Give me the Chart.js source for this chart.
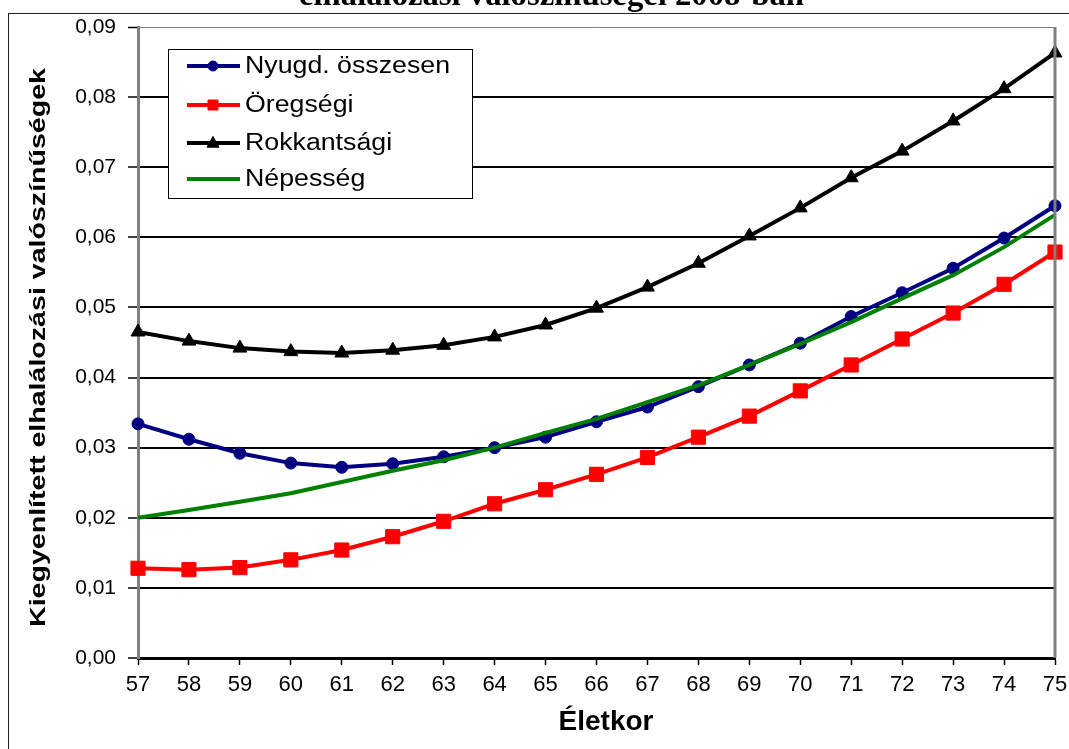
<!DOCTYPE html>
<html><head><meta charset="utf-8">
<script src="https://cdn.jsdelivr.net/npm/chart.js@4.4.1/dist/chart.umd.min.js"></script>
<style>html,body{margin:0;padding:0;background:#fff;overflow:hidden}#wrap{width:1069px;height:749px;position:relative}</style>
</head><body><div id="wrap"><canvas id="c" width="1069" height="749"></canvas></div>
<script>
const ages = [57,58,59,60,61,62,63,64,65,66,67,68,69,70,71,72,73,74,75];
const nyugdOsszesen = [0.0334,0.0312,0.0292,0.0278,0.0272,0.0277,0.0287,0.0300,0.0315,0.0337,0.0358,0.0387,0.0418,0.0449,0.0487,0.0521,0.0556,0.0599,0.0645];
const oregsegi = [0.0128,0.0126,0.0129,0.0140,0.0154,0.0173,0.0195,0.0220,0.0240,0.0262,0.0286,0.0315,0.0345,0.0381,0.0418,0.0455,0.0492,0.0533,0.0579];
const rokkantsagi = [0.0465,0.0452,0.0442,0.0437,0.0435,0.0439,0.0446,0.0458,0.0475,0.0499,0.0529,0.0563,0.0602,0.0642,0.0685,0.0723,0.0766,0.0812,0.0863];
const nepesseg = [0.0200,0.0211,0.0223,0.0235,0.0251,0.0267,0.0282,0.0300,0.0321,0.0341,0.0365,0.0389,0.0418,0.0448,0.0479,0.0513,0.0546,0.0586,0.0632];
const yTicks = [0,0.01,0.02,0.03,0.04,0.05,0.06,0.07,0.08,0.09];
const seriesNames = ['Nyugd. összesen','Öregségi','Rokkantsági','Népesség'];
const titleText = 'elhalálozási valószínűségei 2008-ban';
const yTitle = 'Kiegyenlített elhalálozási valószínűségek';
const xTitle = 'Életkor';

const SANS = "'Liberation Sans', Arial, sans-serif";
Chart.defaults.font.family = SANS;
Chart.defaults.color = '#000';

function marker(ctx, style, x, y, r, color){
  ctx.save();
  ctx.fillStyle = color; ctx.strokeStyle = color; ctx.lineWidth = 1;
  ctx.beginPath();
  if (style === 'circle') { ctx.arc(x, y, r, 0, Math.PI*2); }
  else if (style === 'rect') { ctx.rect(x-r, y-r, 2*r, 2*r); }
  else if (style === 'triangle') { ctx.moveTo(x, y-r*1.1); ctx.lineTo(x+r, y+r*0.7); ctx.lineTo(x-r, y+r*0.7); ctx.closePath(); }
  if (style) { ctx.fill(); ctx.stroke(); }
  ctx.restore();
}

const decor = {
  id: 'decor',
  afterDraw(chart){
    const ctx = chart.ctx, ca = chart.chartArea;
    ctx.save();
    ctx.strokeStyle = '#222'; ctx.lineWidth = 1;
    ctx.strokeRect(8.5, 13.5, 2000, 2000);
    ctx.strokeStyle = '#808080'; ctx.lineWidth = 3;
    ctx.beginPath(); ctx.moveTo(ca.right, ca.top); ctx.lineTo(ca.right, ca.bottom); ctx.stroke();
    ctx.fillStyle = '#000';
    ctx.font = "bold 32px 'Liberation Serif', 'Times New Roman', serif";
    ctx.textBaseline = 'alphabetic'; ctx.textAlign = 'left';
    let w = ctx.measureText(titleText).width;
    ctx.save(); ctx.translate(299, 5); ctx.scale(505 / w, 1); ctx.fillText(titleText, 0, 0); ctx.restore();
    ctx.font = 'bold 22px ' + SANS;
    w = ctx.measureText(yTitle).width;
    ctx.save(); ctx.translate(45, 627); ctx.rotate(-Math.PI/2); ctx.scale(559 / w, 1);
    ctx.textBaseline = 'alphabetic'; ctx.fillText(yTitle, 0, 0); ctx.restore();
    ctx.font = 'bold 28px ' + SANS;
    ctx.textAlign = 'center'; ctx.textBaseline = 'middle';
    ctx.fillText(xTitle, 606, 722);
    ctx.fillStyle = '#fff'; ctx.fillRect(168, 49, 304, 149);
    ctx.strokeStyle = '#000'; ctx.lineWidth = 1; ctx.strokeRect(168.5, 49.5, 304, 149);
    const ys = [66, 105, 143, 179];
    const lstyles = ['circle','rect','triangle',null];
    const lr = [5, 5, 6, 0];
    ctx.font = '23px ' + SANS;
    const sx = 205 / ctx.measureText(seriesNames[0]).width;
    chart.data.datasets.forEach((ds, i) => {
      const y = ys[i];
      ctx.strokeStyle = ds.borderColor; ctx.lineWidth = 4;
      ctx.beginPath(); ctx.moveTo(187, y); ctx.lineTo(240, y); ctx.stroke();
      marker(ctx, lstyles[i], 213, y, lr[i], ds.borderColor);
      ctx.save(); ctx.fillStyle = '#000'; ctx.textAlign = 'left'; ctx.textBaseline = 'middle';
      ctx.translate(245, y + 1); ctx.scale(sx, 1); ctx.fillText(ds.label, 0, 0); ctx.restore();
    });
    ctx.restore();
  }
};

new Chart(document.getElementById('c'), {
  type: 'line',
  data: {
    labels: ages,
    datasets: [
      {label: seriesNames[0], data: nyugdOsszesen, borderColor: '#000080', backgroundColor: '#000080', borderWidth: 4, pointStyle: 'circle', pointRadius: 6, pointBorderWidth: 1, tension: 0, order: 1},
      {label: seriesNames[1], data: oregsegi, borderColor: '#FF0000', backgroundColor: '#FF0000', borderWidth: 4, pointStyle: 'rect', pointRadius: 10, pointBorderWidth: 1, tension: 0, order: 2},
      {label: seriesNames[2], data: rokkantsagi, borderColor: '#000000', backgroundColor: '#000000', borderWidth: 4, pointStyle: 'triangle', pointRadius: 8, pointBorderWidth: 1, tension: 0, order: 3},
      {label: seriesNames[3], data: nepesseg, borderColor: '#008000', backgroundColor: '#008000', borderWidth: 4, pointRadius: 0, tension: 0, order: 0}
    ]
  },
  options: {
    responsive: false,
    animation: false,
    devicePixelRatio: 1,
    events: [],
    layout: {padding: {top: 27, left: 0, right: 14, bottom: 0}},
    plugins: {legend: {display: false}, title: {display: false}, tooltip: {enabled: false}},
    scales: {
      x: {
        type: 'category', offset: false,
        grid: {offset: false, drawOnChartArea: false, drawTicks: true, tickLength: 7, tickColor: '#000', tickWidth: 1.5},
        border: {color: '#000', width: 3},
        ticks: {font: {size: 22}, color: '#000', padding: 7, maxRotation: 0, autoSkip: false},
        afterFit: s => { s.height = 91; s.paddingLeft = 0; s.paddingRight = 0; }
      },
      y: {
        min: 0, max: 0.09,
        afterBuildTicks: s => { s.ticks = yTicks.map(v => ({value: v})); },
        grid: {
          color: c => (c.tick && c.tick.value >= 0.0899) ? '#808080' : '#000',
          lineWidth: c => (c.tick && c.tick.value >= 0.0899) ? 1 : 2,
          drawTicks: true, tickLength: 10, tickColor: '#000', tickWidth: 1.5
        },
        border: {color: '#808080', width: 3},
        ticks: {font: {size: 21}, color: '#000', padding: 12, callback: v => Number(v).toFixed(2).replace('.', ',')},
        afterFit: s => { s.width = 138; s.paddingTop = 0; s.paddingBottom = 0; }
      }
    }
  },
  plugins: [decor]
});
</script>
</body></html>
